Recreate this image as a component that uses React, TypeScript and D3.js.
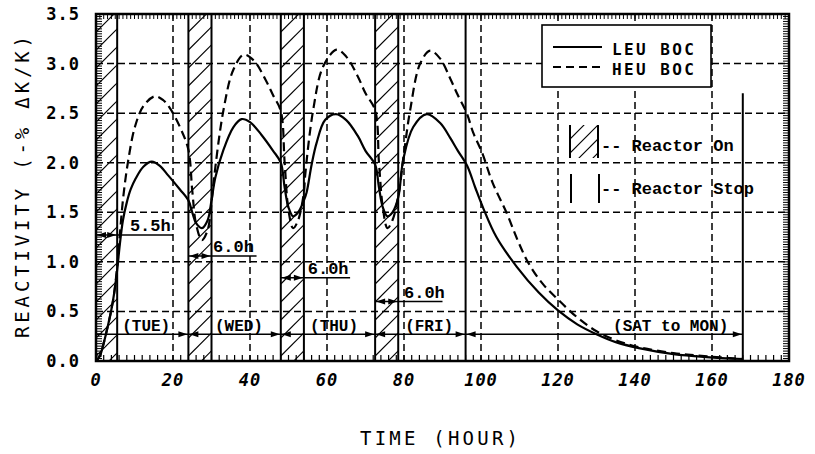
import React from "react";
import * as d3 from "d3";

// ---- data ----
const leuTime = [0,1,2,3,4,4.7,5.5,6.2,7,8,9,10.3,12.3,14.5,16.5,18.8,21.8,24,25,26,27.5,29,30,31,33.1,35.7,37.8,40,43,46,48,49,50,51.2,52.5,54,54.7,56,57.3,59.5,62.3,65,68,70,72.5,73.5,74.5,75.7,77,78.5,79.8,82.4,85.9,89.4,92,94,96.4,98.5,100.6,104,109.3,115,120,125,130,135,141,150,158.6,168];
const leuValues = [0,0.05,0.18,0.34,0.52,0.68,0.92,1.18,1.42,1.6,1.73,1.84,1.96,2.01,1.97,1.87,1.73,1.62,1.5,1.39,1.34,1.42,1.62,1.85,2.13,2.36,2.44,2.41,2.28,2.12,2.0,1.75,1.55,1.46,1.5,1.62,1.7,1.98,2.2,2.43,2.49,2.43,2.27,2.12,1.98,1.75,1.55,1.46,1.5,1.65,2.03,2.36,2.49,2.4,2.25,2.12,1.97,1.75,1.54,1.25,0.95,0.69,0.51,0.37,0.27,0.19,0.13,0.07,0.04,0.02];

const heuTime = [0,1,2,3,4,4.7,5.5,6.2,7.1,8.4,10.1,12.3,15.3,17.5,19.2,21.8,24,25,26,27.5,29,30,30.5,33.1,35.7,38.4,41,44,46,48,49,50,51.2,52.5,54,54.3,56.4,59,62.5,65,68,70,72.5,73.5,74.5,75.7,77,78.5,80,81.6,84.2,86.8,89.4,92,94,96.3,98,100.2,103,106.7,109.5,112.3,116,120,125,130,135,141,150,158,168];
const heuValues = [0,0.05,0.18,0.34,0.52,0.68,0.95,1.28,1.66,2.03,2.36,2.57,2.67,2.63,2.55,2.36,2.13,1.72,1.38,1.22,1.32,1.6,1.79,2.53,2.94,3.09,3.03,2.84,2.68,2.52,2.0,1.52,1.34,1.42,1.7,1.86,2.53,2.97,3.14,3.07,2.87,2.7,2.53,2.0,1.55,1.34,1.42,1.66,2.1,2.53,3.0,3.13,3.05,2.85,2.68,2.5,2.3,2.11,1.8,1.49,1.22,0.99,0.78,0.62,0.44,0.3,0.21,0.14,0.08,0.05,0.02];

const xTicks = [0,20,40,60,80,100,120,140,160,180];
const xTickLabels = ["0","20","40","60","80","100","120","140","160","180"];
const yTicks = [0,0.5,1.0,1.5,2.0,2.5,3.0,3.5];
const yTickLabels = ["0.0","0.5","1.0","1.5","2.0","2.5","3.0","3.5"];

const reactorOnStart = [0,24,48,72.5];
const reactorOnEnd = [5.5,30,54,78.5];
const stopLineTimes = [96];
const weekEndTime = 168;
const weekEndTop = 2.7;

const dayLabels = ["(TUE)","(WED)","(THU)","(FRI)","(SAT to MON)"];
const dayStart = [0,24,48,72.5,96];
const dayEnd = [24,48,72.5,96,168];
const dayLabelAt = [6.8,30.9,55.6,80.3,134.3];
const dayLineLevel = 0.27;

const durLabels = ["5.5h","6.0h","6.0h","6.0h"];
const durLevel = [1.27,1.06,0.84,0.6];
const durUnderlineEnd = [20,41.7,66,90];
const durTextAt = [8.8,30.4,55,80];

const legendSeries = ["LEU BOC","HEU BOC"];

// ---- layout ----
const W = 815, H = 454;
const L = 96, R = 789, T = 14, B = 361;

export default function App() {
  const x = d3.scaleLinear().domain([0,180]).range([L,R]);
  const y = d3.scaleLinear().domain([0,3.5]).range([B,T]);
  const line = d3.line<[number,number]>().x(d=>x(d[0])).y(d=>y(d[1])).curve(d3.curveCatmullRom.alpha(0.5));
  const leuPath = line(leuTime.map((t,i)=>[t,leuValues[i]]) as [number,number][]) || "";
  const heuPath = line(heuTime.map((t,i)=>[t,heuValues[i]]) as [number,number][]) || "";

  const mono = "'Liberation Mono', 'DejaVu Sans Mono', monospace";
  const sansMono = "'DejaVu Sans Mono', monospace";

  const hatch = (x0:number, x1:number, y0:number, y1:number, sp:number, key:string) => {
    const w = x1-x0;
    const lines = [];
    for (let yy = y0 - 2*sp; yy <= y1 + w + sp; yy += sp) {
      lines.push(<line key={key+yy} x1={x0} y1={yy} x2={x1} y2={yy - w} stroke="#000" strokeWidth={1.1}/>);
    }
    return lines;
  };

  const arrowR = (px:number, py:number, k:string) => (
    <path key={k} d={`M${px},${py} L${px-9},${py-3} L${px-9},${py+3} Z`} fill="#000"/>
  );
  const arrowL = (px:number, py:number, k:string) => (
    <path key={k} d={`M${px},${py} L${px+9},${py-3} L${px+9},${py+3} Z`} fill="#000"/>
  );

  const xMinor = d3.range(0,181,2);
  const xTop = d3.range(0,181,1);
  const yMinor = d3.range(0,3.5001,0.025);

  return (
    <svg width={W} height={H} style={{display:"block", position:"absolute", left:0, top:0, background:"#fff"}}>
      <defs>
        {reactorOnStart.map((s,i)=>(
          <clipPath id={"hc"+i} key={i}>
            <rect x={x(s)} y={T} width={x(reactorOnEnd[i])-x(s)} height={B-T}/>
          </clipPath>
        ))}
        <clipPath id="lgc"><rect x={570} y={125} width={28} height={33}/></clipPath>
        <clipPath id="plot"><rect x={L} y={T} width={R-L} height={B-T}/></clipPath>
      </defs>
      <rect x={0} y={0} width={W} height={H} fill="#fff"/>

      {/* grid */}
      {xTicks.filter(t=>t>0 && t<180).map(t=>(
        <line key={"gx"+t} x1={x(t)} x2={x(t)} y1={T} y2={B} stroke="#000" strokeWidth={1.5} strokeDasharray="7,4"/>
      ))}
      {yTicks.filter(v=>v>0 && v<3.5).map(v=>(
        <line key={"gy"+v} x1={L} x2={R} y1={y(v)} y2={y(v)} stroke="#000" strokeWidth={1.5} strokeDasharray="7,4"/>
      ))}

      {/* hatched reactor-on periods */}
      {reactorOnStart.map((s,i)=>(
        <g key={"h"+i} clipPath={`url(#hc${i})`}>
          {hatch(x(s), x(reactorOnEnd[i]), T, B, 18, "h"+i)}
        </g>
      ))}
      {[...reactorOnStart.filter(s=>s>0), ...reactorOnEnd, ...stopLineTimes].map((t,i)=>(
        <line key={"v"+i} x1={x(t)} x2={x(t)} y1={T} y2={B} stroke="#000" strokeWidth={2}/>
      ))}
      <line x1={x(weekEndTime)} x2={x(weekEndTime)} y1={y(weekEndTop)} y2={B} stroke="#000" strokeWidth={2}/>

      {/* day line */}
      <line x1={x(0)} x2={x(168)} y1={y(dayLineLevel)} y2={y(dayLineLevel)} stroke="#000" strokeWidth={1.5}/>
      {dayEnd.map((e,i)=>arrowR(x(e)-1, y(dayLineLevel), "dr"+i))}
      {dayStart.filter(s=>s>0).map((s,i)=>arrowL(x(s)+1, y(dayLineLevel), "dl"+i))}
      {dayLabels.map((d,i)=>(
        <text key={"dt"+i} x={x(dayLabelAt[i])} y={y(dayLineLevel)-3} fontFamily={mono} fontSize={16} fontWeight="bold">{d}</text>
      ))}

      {/* durations */}
      {durLabels.map((d,i)=>{
        const yy = y(durLevel[i]);
        const s = reactorOnStart[i], e = reactorOnEnd[i];
        return (
          <g key={"du"+i}>
            <line x1={x(s)} x2={x(durUnderlineEnd[i])} y1={yy} y2={yy} stroke="#000" strokeWidth={1.5}/>
            {arrowL(x(s)+1, yy, "al")}
            {arrowR(x(e)-1, yy, "ar")}
            <text x={x(durTextAt[i])} y={yy-4} fontFamily={mono} fontSize={17} fontWeight="bold">{d}</text>
          </g>
        );
      })}

      {/* curves */}
      <g clipPath="url(#plot)">
        <path d={leuPath} fill="none" stroke="#000" strokeWidth={2.2}/>
        <path d={heuPath} fill="none" stroke="#000" strokeWidth={2.2} strokeDasharray="9,5"/>
      </g>

      {/* legend */}
      <rect x={542} y={25} width={169} height={62} fill="#fff" stroke="#000" strokeWidth={1.6}/>
      <line x1={553} x2={602} y1={47} y2={47} stroke="#000" strokeWidth={2.2}/>
      <line x1={553} x2={602} y1={67} y2={67} stroke="#000" strokeWidth={2.2} strokeDasharray="8,5"/>
      {legendSeries.map((s,i)=>(
        <text key={"ls"+i} x={612} y={55+20*i} fontFamily={sansMono} fontSize={16} fontWeight="bold" letterSpacing={2.4}>{s}</text>
      ))}
      <g clipPath="url(#lgc)">{hatch(570,598,125,158,14,"lg")}</g>
      <line x1={570} x2={570} y1={125} y2={158} stroke="#000" strokeWidth={2}/>
      <line x1={598} x2={598} y1={125} y2={158} stroke="#000" strokeWidth={2}/>
      <text x={601} y={151} fontFamily={mono} fontSize={17} fontWeight="bold">-- Reactor On</text>
      <line x1={571} x2={571} y1={174} y2={203} stroke="#000" strokeWidth={2}/>
      <line x1={599} x2={599} y1={174} y2={203} stroke="#000" strokeWidth={2}/>
      <text x={601} y={194} fontFamily={mono} fontSize={17} fontWeight="bold">-- Reactor Stop</text>

      {/* ticks */}
      {xMinor.map(t=>(
        <line key={"tb"+t} x1={x(t)} x2={x(t)} y1={B} y2={B-6} stroke="#000" strokeWidth={1.2}/>
      ))}
      {xTop.map(t=>(
        <line key={"tt"+t} x1={x(t)} x2={x(t)} y1={T} y2={T+5} stroke="#000" strokeWidth={1}/>
      ))}
      {yMinor.map((v,i)=>(
        <g key={"ty"+i}>
          <line x1={L} x2={L+6} y1={y(v)} y2={y(v)} stroke="#000" strokeWidth={1}/>
          <line x1={R} x2={R-6} y1={y(v)} y2={y(v)} stroke="#000" strokeWidth={1}/>
        </g>
      ))}

      {/* frame */}
      <rect x={L} y={T} width={R-L} height={B-T} fill="none" stroke="#000" strokeWidth={2.5}/>

      {/* tick labels */}
      {xTicks.map((t,i)=>(
        <text key={"xl"+i} x={x(t)} y={386} textAnchor="middle" fontFamily={sansMono} fontSize={17} fontWeight="bold" fontStyle="italic" letterSpacing={1}>{xTickLabels[i]}</text>
      ))}
      {yTicks.map((v,i)=>(
        <text key={"yl"+i} x={80} y={y(v)+6} textAnchor="end" fontFamily={sansMono} fontSize={17} fontWeight="bold" letterSpacing={1}>{yTickLabels[i]}</text>
      ))}

      {/* axis titles */}
      <text x={439} y={445} textAnchor="middle" fontFamily={sansMono} fontSize={19} textLength={158} lengthAdjust="spacing">TIME (HOUR)</text>
      <text transform="translate(29,187) rotate(-90)" textAnchor="middle" fontFamily={sansMono} fontSize={19} textLength={302} lengthAdjust="spacing">REACTIVITY  (-% ΔK/K)</text>
    </svg>
  );
}
